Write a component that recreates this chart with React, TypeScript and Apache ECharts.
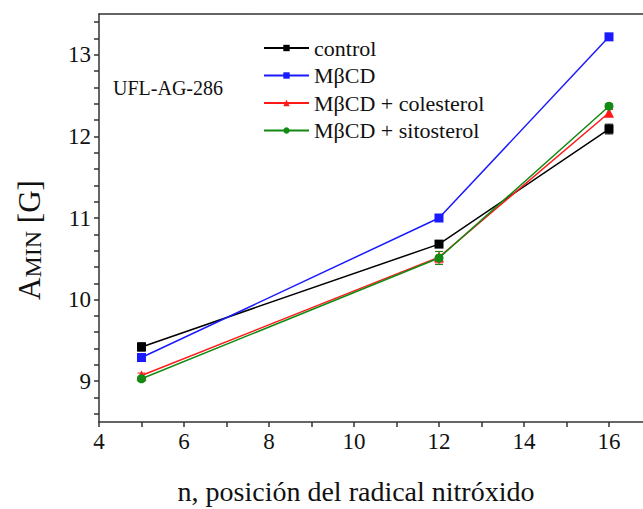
import React, { useEffect, useRef } from "react";
import * as echarts from "echarts";

const positions = [5, 12, 16];
const seriesNames = ["control", "MβCD", "MβCD + colesterol", "MβCD + sitosterol"];
const controlValues = [9.42, 10.68, 12.09];
const mbcdValues = [9.29, 11.0, 13.22];
const colesterolValues = [9.07, 10.52, 12.29];
const sitosterolValues = [9.03, 10.51, 12.37];
const controlErr = [0.05, 0.04, 0.06];
const mbcdErr = [0.04, 0.03, 0.02];
const colesterolErr = [0.03, 0.07, 0.04];
const sitosterolErr = [0.03, 0.08, 0.03];
const xLabelValues = [4, 6, 8, 10, 12, 14, 16];
const xTickValues = [4, 5, 6, 7, 8, 9, 10, 11, 12, 13, 14, 15, 16];
const yLabelValues = [9, 10, 11, 12, 13];
const yTickValues = [8.6, 8.8, 9, 9.2, 9.4, 9.6, 9.8, 10, 10.2, 10.4, 10.6, 10.8, 11, 11.2, 11.4, 11.6, 11.8, 12, 12.2, 12.4, 12.6, 12.8, 13, 13.2, 13.4];

const colors = ["#000000", "#1a1aff", "#ff1a1a", "#138a13"];
const symbols = ["rect", "rect", "triangle", "circle"];
const FONT = "'Liberation Serif', 'DejaVu Serif', serif";

export default function App() {
  const ref = useRef<HTMLDivElement>(null);
  useEffect(() => {
    if (!ref.current) return;
    const chart = echarts.init(ref.current, null, { renderer: "svg" });
    const allValues = [controlValues, mbcdValues, colesterolValues, sitosterolValues];
    const allErr = [controlErr, mbcdErr, colesterolErr, sitosterolErr];

    const lineSeries = allValues.map((vals, i) => ({
      name: seriesNames[i],
      type: "line",
      data: positions.map((p, j) => [p, vals[j]]),
      symbol: symbols[i],
      symbolSize: i === 2 ? 10 : 9,
      showSymbol: true,
      lineStyle: { color: colors[i], width: 1.5 },
      itemStyle: { color: colors[i] },
      z: 3 + i,
    }));

    const errSeries = allValues.map((vals, i) => ({
      name: seriesNames[i] + " err",
      type: "custom",
      data: positions.map((p, j) => [p, vals[j] - allErr[i][j], vals[j] + allErr[i][j]]),
      renderItem: (params: any, api: any) => {
        const x = api.value(0);
        const lo = api.coord([x, api.value(1)]);
        const hi = api.coord([x, api.value(2)]);
        const w = 4;
        const st = { stroke: colors[i], lineWidth: 1 };
        return {
          type: "group",
          children: [
            { type: "line", shape: { x1: lo[0], y1: lo[1], x2: hi[0], y2: hi[1] }, style: st },
            { type: "line", shape: { x1: lo[0] - w, y1: lo[1], x2: lo[0] + w, y2: lo[1] }, style: st },
            { type: "line", shape: { x1: hi[0] - w, y1: hi[1], x2: hi[0] + w, y2: hi[1] }, style: st },
          ],
        };
      },
      z: 2,
      silent: true,
    }));

    chart.setOption({
      animation: false,
      backgroundColor: "#ffffff",
      textStyle: { fontFamily: FONT },
      grid: { left: 99, right: 0, top: 14, bottom: 87, containLabel: false },
      legend: {
        data: seriesNames,
        orient: "vertical",
        left: 258,
        top: 32,
        itemWidth: 45,
        itemHeight: 8,
        itemGap: 5.5,
        textStyle: { fontFamily: FONT, fontSize: 22, color: "#111" },
      },
      xAxis: [
        {
          type: "value",
          min: 4,
          max: 16.8,
          axisLine: { show: true, lineStyle: { color: "#333", width: 1.5 } },
          axisTick: { show: true, length: 5, inside: false, customValues: xTickValues, lineStyle: { color: "#333", width: 1.5 } },
          axisLabel: { customValues: xLabelValues, fontFamily: FONT, fontSize: 23, color: "#111", margin: 8 },
          splitLine: { show: false },
        },
        {
          type: "value",
          position: "top",
          min: 4,
          max: 16.8,
          axisLine: { show: true, lineStyle: { color: "#333", width: 1.5 } },
          axisTick: { show: false },
          axisLabel: { show: false },
          splitLine: { show: false },
        },
      ],
      yAxis: {
        type: "value",
        min: 8.5,
        max: 13.5,
        axisLine: { show: true, lineStyle: { color: "#333", width: 1.5 } },
        axisTick: { show: true, length: 5, inside: false, customValues: yTickValues, lineStyle: { color: "#333", width: 1.5 } },
        axisLabel: { customValues: yLabelValues, fontFamily: FONT, fontSize: 23, color: "#111", margin: 8 },
        splitLine: { show: false },
      },
      graphic: [
        {
          type: "text",
          left: 113,
          top: 78,
          style: { text: "UFL-AG-286", fontFamily: FONT, fontSize: 20, fill: "#111" },
        },
        {
          type: "text",
          x: 356,
          y: 491,
          style: {
            text: "n, posición del radical nitróxido",
            fontFamily: FONT,
            fontSize: 28,
            fill: "#111",
            align: "center",
            verticalAlign: "middle",
          },
        },
        {
          type: "text",
          x: 27,
          y: 240,
          rotation: Math.PI / 2,
          style: {
            text: "{a|A}{s|MIN}{a| [G]}",
            fontFamily: FONT,
            fill: "#111",
            align: "center",
            verticalAlign: "middle",
            rich: {
              a: { fontFamily: FONT, fontSize: 31, fill: "#111", lineHeight: 36, verticalAlign: "bottom" },
              s: { fontFamily: FONT, fontSize: 24, fill: "#111", lineHeight: 24, verticalAlign: "bottom" },
            },
          },
        },
      ],
      series: [...errSeries, ...lineSeries],
    });
    return () => chart.dispose();
  }, []);
  return <div ref={ref} style={{ position: "fixed", left: 0, top: 0, width: 643, height: 509 }} />;
}
